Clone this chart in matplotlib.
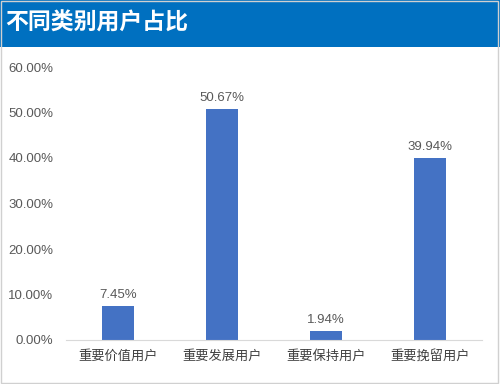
import matplotlib.pyplot as plt
from matplotlib.patches import Rectangle
from matplotlib.ticker import FuncFormatter

plt.rcParams['font.family'] = ['Liberation Sans', 'Noto Sans CJK SC', 'DejaVu Sans']

# 用户类别及占比
categories = ['重要价值用户', '重要发展用户', '重要保持用户', '重要挽留用户']
shares = [0.0745, 0.5067, 0.0194, 0.3994]
yticks = [0.0, 0.1, 0.2, 0.3, 0.4, 0.5, 0.6]

fig = plt.figure(figsize=(5.0, 3.84), dpi=100)

# 顶部蓝色标题栏
fig.patches.append(Rectangle((0, 1 - 47 / 384), 1, 47 / 384, transform=fig.transFigure,
                             facecolor='#0070C0', edgecolor='none', zorder=0))
fig.text(0.01, 1 - 23 / 384, '不同类别用户占比', color='white', fontsize=16.5,
         fontweight='bold', family=['Noto Sans CJK SC', 'DejaVu Sans'], va='center', ha='left')
# 外框
fig.patches.append(Rectangle((0.002, 0.002), 0.994, 0.995, transform=fig.transFigure,
                             facecolor='none', edgecolor='#D0D0D0', lw=1, zorder=5))

ax = fig.add_axes([66 / 500, 1 - 340 / 384, 416 / 500, 273 / 384])
x = range(len(categories))
bars = ax.bar(x, shares, width=0.31, color='#4472C4', zorder=2)
for xi, v in zip(x, shares):
    ax.text(xi, v + 0.012, f'{v * 100:.2f}%', ha='center', va='bottom',
            fontsize=9.5, color='#595959')

ax.set_xlim(-0.5, len(categories) - 0.5)
ax.set_ylim(0, 0.6)
ax.set_yticks(yticks)
ax.yaxis.set_major_formatter(FuncFormatter(lambda v, p: f'{v * 100:.2f}%'))
ax.set_xticks(list(x))
ax.set_xticklabels(categories, family=['Noto Sans CJK SC', 'DejaVu Sans'], fontsize=9.5)
ax.tick_params(axis='both', length=0, colors='#595959', labelsize=9.5)
ax.tick_params(axis='x', pad=7, colors='#404040')
ax.tick_params(axis='y', pad=9)
for s in ['top', 'right', 'left']:
    ax.spines[s].set_visible(False)
ax.spines['bottom'].set_color('#D9D9D9')

plt.savefig('out.png', dpi=100)
